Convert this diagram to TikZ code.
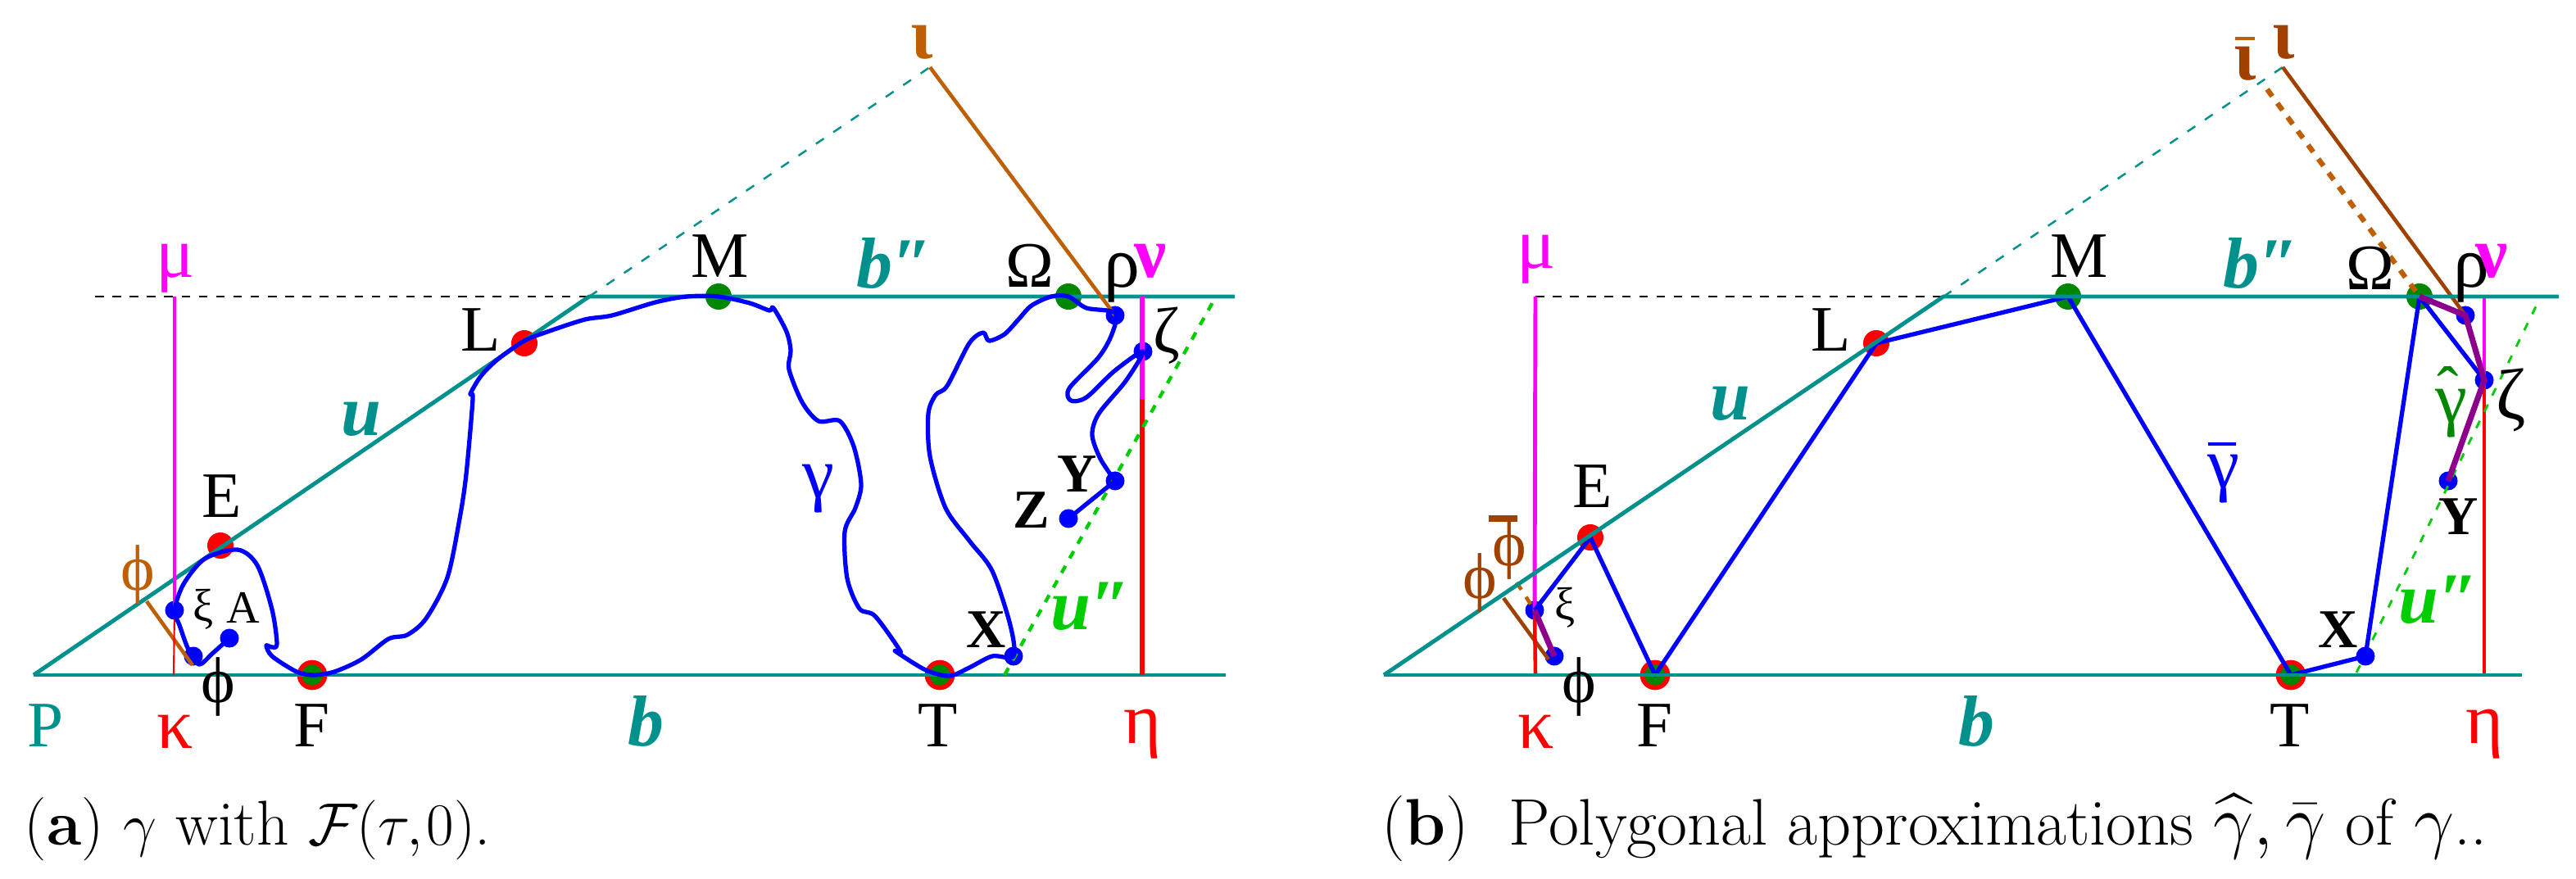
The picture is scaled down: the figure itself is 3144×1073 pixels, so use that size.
\documentclass[tikz,border=0pt]{standalone}
\usepackage{amsmath, amsfonts}
\usepackage{fontspec}
\usepackage{tikz}
\newfontfamily\lab{Liberation Serif}
\definecolor{tealb}{RGB}{0,145,140}
\definecolor{brownl}{RGB}{190,95,5}
\definecolor{brownd}{RGB}{160,65,0}
\definecolor{greenu}{RGB}{0,205,0}
\definecolor{greend}{RGB}{0,135,0}
\definecolor{purp}{RGB}{140,0,140}
\definecolor{mag}{RGB}{255,0,255}
\tikzset{
  lbl/.style={font=\lab\fontsize{22.5}{26}\selectfont, inner sep=0pt, outer sep=0pt},
  lbg/.style={font=\lab\fontsize{25}{28}\selectfont, inner sep=0pt, outer sep=0pt},
  lbn/.style={font=\lab\bfseries\fontsize{25}{28}\selectfont, inner sep=0pt, outer sep=0pt},
  lbs/.style={font=\lab\fontsize{16}{18}\selectfont, inner sep=0pt, outer sep=0pt},
  lbb/.style={font=\lab\bfseries\fontsize{19}{22}\selectfont, inner sep=0pt, outer sep=0pt},
  lbi/.style={font=\lab\bfseries\itshape\fontsize{25}{28}\selectfont, inner sep=0pt, outer sep=0pt},
  captxt/.style={inner sep=0pt, outer sep=0pt, anchor=base west},
  ptr/.style={circle, fill=red, minimum size=0.32cm, inner sep=0pt, outer sep=0pt},
  ptg/.style={circle, fill=greend, minimum size=0.32cm, inner sep=0pt, outer sep=0pt},
  ptb/.style={circle, fill=blue, minimum size=0.23cm, inner sep=0pt, outer sep=0pt},
  ptrg/.style={circle, draw=red, fill=greend, line width=1.6pt, minimum size=0.31cm, inner sep=0pt, outer sep=0pt},
  barr/.style={inner sep=0pt, outer sep=0pt},
  teall/.style={tealb, line width=1.4pt},
  blue curve/.style={blue, line width=1.5pt, line join=round},
  hull/.style={purp, line width=2pt, line join=round},
  tealdash/.style={tealb, line width=0.7pt, dash pattern=on 3.3pt off 4pt}
}
\begin{document}
\begin{tikzpicture}[x=0.01cm, y=-0.01cm]
\useasboundingbox (0,0) rectangle (3144,1073);

% left panel
\coordinate (aP) at (41,824);
\coordinate (aQ) at (719,362);
\coordinate (aI) at (1135,82);
\coordinate (aR) at (1496,824);
\coordinate (aS) at (1507,362);
\coordinate (aW) at (116,362);
\coordinate (aV) at (1226,824);
\coordinate (aU) at (1484,362);
\coordinate (aN) at (1394,362);
\coordinate (aN1) at (1394,487);
\coordinate (aH) at (1394,824);
\coordinate (aK) at (212,824);
\coordinate (aFa) at (179,734);
\coordinate (aFb) at (235,812);
\coordinate (aG) at (213,362);

\node[ptr] (aE) at (269,666) {};
\node[ptr] (aL) at (640,419) {};
\node[ptrg] (aF) at (381,824) {};
\node[ptrg] (aT) at (1147,824) {};
\node[ptg] (aM) at (877,362) {};
\node[ptg] (aO) at (1304,362) {};
\node[ptb] (aXi) at (213,745) {};
\node[ptb] (aPh) at (236,801) {};
\node[ptb] (aA) at (280,779) {};
\node[ptb] (aX) at (1237,801) {};
\node[ptb] (aRho) at (1361,385) {};
\node[ptb] (aZe) at (1395,429) {};
\node[ptb] (aY) at (1361,587) {};
\node[ptb] (aZ) at (1304,633) {};

\draw[black, line width=0.3pt, dashed] (aW) -- (aQ);
\draw[teall] (aP) -- (aQ) -- (aS);
\draw[teall] (aP) -- (aR);
\draw[tealdash] (aQ) -- (aI);
\draw[brownl, line width=1.3pt] (aI) -- (aRho.center);
\draw[brownl, line width=1.3pt] (aFa) -- (aFb);
\draw[red, line width=0.6pt] (aXi.center) -- (aK);
\draw[mag, line width=1.4pt] (aXi.center) -- (aG);
\draw[red, line width=1.5pt] (aN1) -- (aH);
\draw[mag, line width=1.5pt] (aN) -- (aN1);
\draw[greenu, line width=1.2pt, dash pattern=on 2.8pt off 3pt] (aV) -- (aU);

\draw[blue curve] plot[smooth, tension=0.5] coordinates {
  (280,779) (260,797) (243,811) (230,793) (219,763) (213,745) (224,713) (250,682)
  (290,671) (314,690) (332,744) (338,786) (332,790) (325,788) (332,801) (362,820)
  (383,824) (408,820) (441,805) (474,780) (497,775) (520,755) (546,705) (561,633)
  (569,579) (577,487) (574,481) (587,459) (607,439) (640,416) (668,405) (714,390)
  (747,385) (800,369) (838,362) (877,362) (915,370) (939,379) (944,376) (960,405)
  (965,428) (963,451) (979,491) (999,514) (1025,514) (1042,545) (1051,591) (1044,620)
  (1031,649) (1034,706) (1049,743) (1068,752) (1099,795) (1093,795) (1130,818)
  (1159,825) (1183,815) (1211,801) (1237,801) (1233,763) (1211,697) (1183,660)
  (1154,620) (1135,557) (1133,505) (1142,482) (1156,471) (1183,419) (1200,406)
  (1207,416) (1226,408) (1243,390) (1259,373) (1283,362) (1304,362) (1326,376)
  (1361,382) (1357,408) (1341,436) (1305,474) (1307,489) (1326,485) (1360,453)
  (1395,429) (1374,465) (1341,505) (1333,531) (1343,560) (1361,587)};
\draw[blue curve] (aY.center) -- (aZ.center);

\node[lbg, mag] (aMu) at (214,328) {μ};
\node[lbl, brownl] (aPhi) at (168,701) {ϕ};
\node[lbs] (aXiL) at (248,744) {ξ};
\node[lbs] (aAL) at (297,742) {A};
\node[lbl] (aEL) at (271,606) {E};
\node[lbl] (aLL) at (587,403) {L};
\node[lbi, tealb] (aUL) at (441,512) {u};
\node[lbl] (aPhL) at (266,838) {ϕ};
\node[lbl] (aFL) at (381,886) {F};
\node[lbl, tealb] (aPL) at (56,886) {P};
\node[lbg, red] (aKa) at (214,893) {κ};
\node[lbi, tealb] (aBL) at (788,880) {b};
\node[lbl] (aTL) at (1145,886) {T};
\node[lbg, red] (aEta) at (1394,896) {η};
\node[lbl] (aML) at (879,313) {M};
\node[lbi, tealb] (aBB) at (1092,321) {b″};
\node[lbl] (aOm) at (1257,324) {Ω};
\node[lbg] (aRhoL) at (1369,339) {ρ};
\node[lbn, mag] (aNu) at (1404,319) {ν};
\node[lbl] (aZeL) at (1424,410) {ζ};
\node[lbn, brownl] (aIo) at (1125,52) {ι};
\node[lbg, blue] (aGa) at (999,597) {γ};
\node[lbb] (aYL) at (1315,579) {Y};
\node[lbb] (aZL) at (1259,623) {Z};
\node[lbb] (aXL) at (1204,769) {X};
\node[lbi, greenu] (aUU) at (1331,740) {u″};

% right panel
\coordinate (bP) at (1689,824);
\coordinate (bQ) at (2372,362);
\coordinate (bI) at (2786,82);
\coordinate (bR) at (3078,824);
\coordinate (bS) at (3123,362);
\coordinate (bW) at (1874,362);
\coordinate (bV) at (2876,821);
\coordinate (bU) at (3101,362);
\coordinate (bN) at (3032,362);
\coordinate (bH) at (3032,824);
\coordinate (bK) at (1874,824);
\coordinate (bFa) at (1835,730);
\coordinate (bFb) at (1890,805);
\coordinate (bFc) at (1851,711);
\coordinate (bIa) at (2767,109);

\node[ptr] (bE) at (1941,656) {};
\node[ptr] (bL) at (2290,419) {};
\node[ptrg] (bF) at (2020,824) {};
\node[ptrg] (bT) at (2796,824) {};
\node[ptg] (bM) at (2524,362) {};
\node[ptg] (bO) at (2953,362) {};
\node[ptb] (bXi) at (1873,745) {};
\node[ptb] (bPh) at (1897,801) {};
\node[ptb] (bX) at (2887,801) {};
\node[ptb] (bRho) at (3009,385) {};
\node[ptb] (bZe) at (3032,464) {};
\node[ptb] (bY) at (2988,587) {};

\draw[black, line width=0.7pt, dashed] (bW) -- (bQ);
\draw[tealdash] (bQ) -- (bI);
\draw[brownd, line width=1.3pt] (bI) -- (bRho.center);
\draw[brownl, line width=1.8pt, dash pattern=on 3pt off 3pt] (bIa) -- (bO.center);
\draw[brownd, line width=1.3pt] (bFa) -- (bFb);
\draw[brownl, line width=1.3pt, dash pattern=on 3pt off 3pt] (bFc) -- (bXi.center);
\draw[red, line width=1.3pt] (bXi.center) -- (bK);
\draw[mag, line width=1.4pt] (bXi.center) -- (bW);
\draw[red, line width=1.4pt] (bZe.center) -- (bH);
\draw[mag, line width=1.4pt] (bN) -- (bZe.center);
\draw[greenu, line width=0.8pt, dash pattern=on 2.8pt off 3.5pt] (bV) -- (bU);
\draw[blue curve] (bXi.center) -- (bE.center) -- (bF.center) -- (bL.center) -- (bM.center) -- (bT.center) -- (bX.center) -- (bO.center) -- (bZe.center);
\draw[teall] (bP) -- (bQ) -- (bS);
\draw[teall] (bP) -- (bR);
\draw[hull] (bXi.center) -- (bPh.center);
\draw[hull] (bY.center) -- (bZe.center) -- (bRho.center) -- (bO.center);

\node[lbg, mag] (bMu) at (1875,317) {μ};
\node[lbl, brownd] (bPhi) at (1806,711) {ϕ};
\node[lbl, brownd] (bPhB) at (1842,671) {ϕ};
\node[barr] (bPhBar) at (1834,633) {\color{brownd}\rule{0.35cm}{2.4pt}};
\node[lbs] (bXiL) at (1910,742) {ξ};
\node[lbl] (bEL) at (1944,594) {E};
\node[lbl] (bLL) at (2235,403) {L};
\node[lbi, tealb] (bUL) at (2112,493) {u};
\node[lbl] (bPhL) at (1927,838) {ϕ};
\node[lbl] (bFL) at (2019,886) {F};
\node[lbg, red] (bKa) at (1875,893) {κ};
\node[lbi, tealb] (bBL) at (2412,880) {b};
\node[lbl] (bTL) at (2795,886) {T};
\node[lbg, red] (bEta) at (3032,896) {η};
\node[lbl] (bML) at (2538,313) {M};
\node[lbi, tealb] (bBB) at (2760,321) {b″};
\node[lbl] (bOm) at (2893,327) {Ω};
\node[lbg] (bRhoL) at (3016,339) {ρ};
\node[lbn, mag] (bNu) at (3041,319) {ν};
\node[lbg] (bZeL) at (3065,488) {ζ};
\node[lbn, brownd] (bIo) at (2787,52) {ι};
\node[lbn, brownd] (bIoB) at (2740,78) {ι};
\node[barr] (bIoBar) at (2740,47) {\color{brownl}\rule{0.24cm}{1.3pt}};
\node[lbg, blue] (bGa) at (2714,585) {γ};
\node[barr] (bGaBar) at (2712,542) {\color{blue}\rule{0.34cm}{1.3pt}};
\node[lbg, greend] (bGh) at (2992,505) {γ};
\node[lbl, greend] (bGhHat) at (2988,475) {ˆ};
\node[lbb] (bYL) at (3001,631) {Y};
\node[lbb] (bXL) at (2854,769) {X};
\node[lbi, greenu] (bUU) at (2976,732) {u″};

% captions
\node[captxt, font=\fontsize{22}{26}\selectfont] (capa) at (30,1031) {(\textbf{a}) $\gamma$ with $\mathcal{F}(\tau,\mspace{-2mu}0)$.};
\node[captxt, font=\fontsize{22.85}{27}\selectfont] (capb) at (1686,1031) {(\textbf{b})\ \ Polygonal approximations $\widehat{\gamma},\bar{\gamma}$ of $\gamma$..};
\end{tikzpicture}
\end{document}
